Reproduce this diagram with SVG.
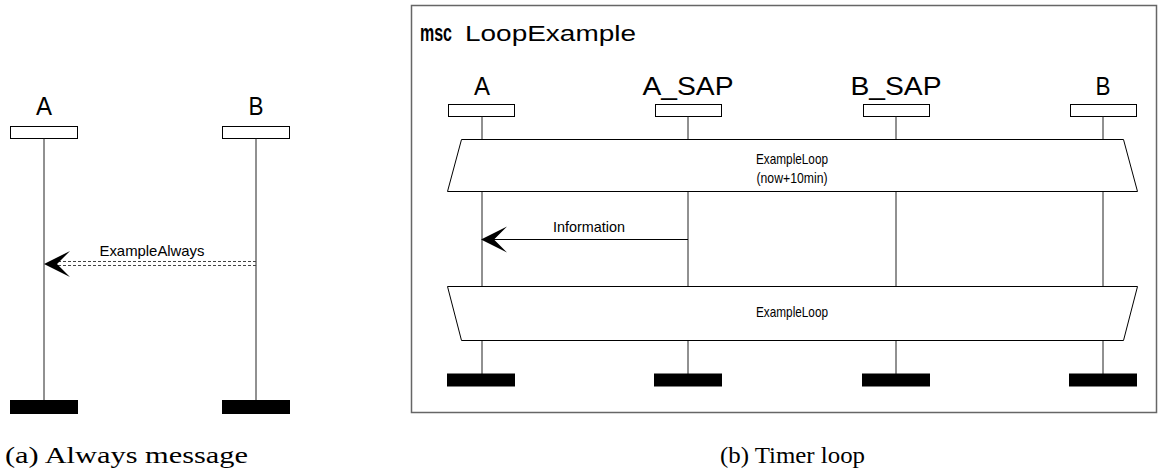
<svg xmlns="http://www.w3.org/2000/svg" width="1160" height="475" viewBox="0 0 1160 475">
<style>
.lbl{font-family:"Liberation Sans Narrow","Liberation Sans",Arial,sans-serif;fill:#000}
.big{font-size:26px}
.sm{font-size:15px}
.cap{font-family:"Liberation Serif","DejaVu Serif",serif;font-size:23px;fill:#000}
.head{fill:#fff;stroke:#000;stroke-width:1}
.end{fill:#000}
.life{stroke:#222;stroke-width:1;fill:none}
.loop{fill:#fff;stroke:#000;stroke-width:1}
</style>
<defs>
<path id="ah" d="M0,0 L26,-13 L13,0 L26,13 Z" fill="#000"/>
</defs>
<rect width="1160" height="475" fill="#fff"/>

<!-- (a) Always message -->
<g id="a-A">
<text class="lbl big" x="44" y="115" text-anchor="middle" textLength="16" lengthAdjust="spacingAndGlyphs">A</text>
<rect class="head" x="10.5" y="126.5" width="67" height="12"/>
<line class="life" x1="44" y1="138.5" x2="44" y2="400" stroke="#555"/>
<rect class="end" x="10" y="400" width="68" height="14"/>
</g>
<g id="a-B">
<text class="lbl big" x="256" y="115" text-anchor="middle" textLength="15" lengthAdjust="spacingAndGlyphs">B</text>
<rect class="head" x="222.5" y="126.5" width="67" height="12"/>
<line class="life" x1="256" y1="138.5" x2="256" y2="400" stroke="#555"/>
<rect class="end" x="222" y="400" width="68" height="14"/>
</g>

<!-- (b) Timer loop -->
<g id="frame">
<rect x="411.5" y="5.5" width="745" height="407" fill="none" stroke="#666" stroke-width="1.5"/>
<text class="lbl" x="420" y="41" font-size="23" font-weight="bold" textLength="32" lengthAdjust="spacingAndGlyphs">msc</text>
<text class="lbl" x="465" y="41" font-size="22" textLength="171" lengthAdjust="spacingAndGlyphs">LoopExample</text>
</g>
<g id="b-A">
<text class="lbl big" x="482" y="95" text-anchor="middle" textLength="16" lengthAdjust="spacingAndGlyphs">A</text>
<rect class="head" x="448.5" y="104.5" width="66" height="12"/>
<line class="life" x1="482" y1="116.5" x2="482" y2="374"/>
<rect class="end" x="447" y="373.5" width="68" height="13"/>
</g>
<g id="b-ASAP">
<text class="lbl big" x="688" y="95" text-anchor="middle" textLength="91" lengthAdjust="spacingAndGlyphs">A_SAP</text>
<rect class="head" x="655.5" y="104.5" width="66" height="12"/>
<line class="life" x1="688" y1="116.5" x2="688" y2="374"/>
<rect class="end" x="654" y="373.5" width="68" height="13"/>
</g>
<g id="b-BSAP">
<text class="lbl big" x="896" y="95" text-anchor="middle" textLength="91" lengthAdjust="spacingAndGlyphs">B_SAP</text>
<rect class="head" x="863.5" y="104.5" width="66" height="12"/>
<line class="life" x1="896" y1="116.5" x2="896" y2="374"/>
<rect class="end" x="862" y="373.5" width="68" height="13"/>
</g>
<g id="b-B">
<text class="lbl big" x="1103" y="95" text-anchor="middle" textLength="15" lengthAdjust="spacingAndGlyphs">B</text>
<rect class="head" x="1070.5" y="104.5" width="66" height="12"/>
<line class="life" x1="1103" y1="116.5" x2="1103" y2="374"/>
<rect class="end" x="1069" y="373.5" width="68" height="13"/>
</g>
<g id="loop1">
<polygon class="loop" points="461.5,139.5 1123.5,139.5 1137.5,191.5 447.5,191.5"/>
<text class="lbl sm" x="792" y="164" text-anchor="middle" textLength="72" lengthAdjust="spacingAndGlyphs">ExampleLoop</text>
<text class="lbl sm" x="792" y="183" text-anchor="middle" textLength="71" lengthAdjust="spacingAndGlyphs">(now+10min)</text>
</g>
<g id="loop2">
<polygon class="loop" points="447.5,286.5 1137.5,286.5 1123.5,340.5 461.5,340.5"/>
<text class="lbl sm" x="792" y="317" text-anchor="middle" textLength="72" lengthAdjust="spacingAndGlyphs">ExampleLoop</text>
</g>

<g id="connectors">
<g id="msg-always">
<line x1="58" y1="261.5" x2="256" y2="261.5" stroke="#444" stroke-width="1" stroke-dasharray="3,2"/>
<line x1="58" y1="265.5" x2="256" y2="265.5" stroke="#444" stroke-width="1" stroke-dasharray="3,2"/>
<use href="#ah" x="44" y="264"/>
<text class="lbl sm" x="152" y="256" text-anchor="middle" textLength="105" lengthAdjust="spacingAndGlyphs">ExampleAlways</text>
</g>
<g id="msg-info">
<line x1="492" y1="239.5" x2="688" y2="239.5" stroke="#000" stroke-width="1"/>
<use href="#ah" x="481" y="239.5"/>
<text class="lbl sm" x="589" y="232" text-anchor="middle" textLength="72" lengthAdjust="spacingAndGlyphs">Information</text>
</g>
</g>

<text class="cap" x="5" y="463" textLength="243" lengthAdjust="spacingAndGlyphs">(a) Always message</text>
<text class="cap" x="720" y="463" textLength="145" lengthAdjust="spacingAndGlyphs">(b) Timer loop</text>
</svg>
